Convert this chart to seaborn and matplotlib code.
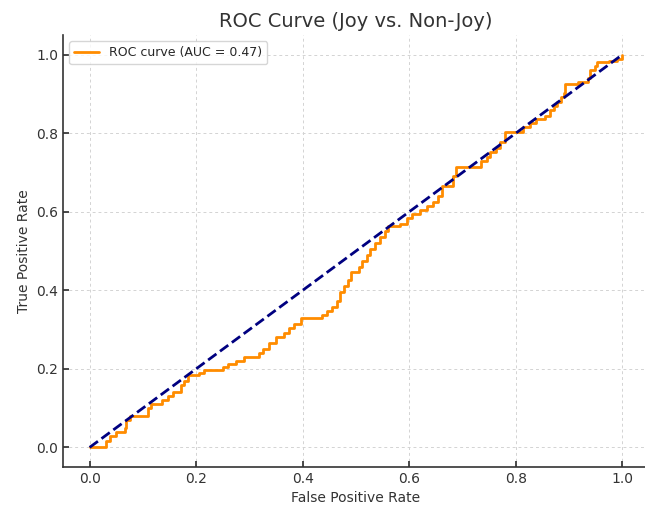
import matplotlib
matplotlib.use("Agg")
import matplotlib.pyplot as plt
import seaborn as sns
import pandas as pd

# Step corners of the ROC curve (tpr jumps to value at given fpr)
fpr = [0.000, 0.030, 0.038, 0.050, 0.066, 0.068, 0.075, 0.110, 0.115, 0.135,
       0.148, 0.156, 0.172, 0.178, 0.184, 0.205, 0.214, 0.250, 0.260, 0.274,
       0.289, 0.317, 0.325, 0.336, 0.350, 0.365, 0.375, 0.383, 0.396, 0.437,
       0.445, 0.455, 0.465, 0.470, 0.477, 0.485, 0.490, 0.505, 0.512, 0.520,
       0.527, 0.535, 0.545, 0.555, 0.560, 0.583, 0.595, 0.605, 0.620, 0.634,
       0.645, 0.653, 0.662, 0.683, 0.688, 0.734, 0.745, 0.752, 0.762, 0.771,
       0.780, 0.814, 0.827, 0.837, 0.855, 0.865, 0.872, 0.877, 0.885, 0.890,
       0.893, 0.917, 0.936, 0.940, 0.948, 0.953, 0.975, 0.990, 1.000]
tpr = [0.000, 0.015, 0.028, 0.040, 0.050, 0.070, 0.080, 0.100, 0.110, 0.120,
       0.132, 0.142, 0.160, 0.170, 0.183, 0.190, 0.198, 0.205, 0.212, 0.220,
       0.231, 0.240, 0.250, 0.265, 0.280, 0.290, 0.305, 0.315, 0.330, 0.338,
       0.348, 0.358, 0.372, 0.395, 0.410, 0.425, 0.447, 0.460, 0.475, 0.490,
       0.505, 0.520, 0.535, 0.550, 0.563, 0.570, 0.585, 0.595, 0.605, 0.615,
       0.625, 0.640, 0.665, 0.690, 0.713, 0.728, 0.740, 0.752, 0.762, 0.777,
       0.802, 0.815, 0.825, 0.835, 0.845, 0.858, 0.870, 0.880, 0.893, 0.903,
       0.924, 0.930, 0.940, 0.962, 0.972, 0.980, 0.985, 0.990, 1.000]
auc_value = 0.47
chance_x = [0, 1]
chance_y = [0, 1]

title = "ROC Curve (Joy vs. Non-Joy)"
xlabel = "False Positive Rate"
ylabel = "True Positive Rate"
xticks = [0.0, 0.2, 0.4, 0.6, 0.8, 1.0]
yticks = [0.0, 0.2, 0.4, 0.6, 0.8, 1.0]

sns.set_theme(style="white")
plt.rcParams['font.family'] = ['DejaVu Sans']

fig = plt.figure(figsize=(6.45, 5.09), dpi=100)
ax = fig.add_axes([63/645, 42/509, 586/645, 432/509])

df = pd.DataFrame({"fpr": fpr, "tpr": tpr})
sns.lineplot(data=df, x="fpr", y="tpr", ax=ax, color="darkorange", lw=2,
             drawstyle="steps-post", estimator=None, sort=False,
             label=f"ROC curve (AUC = {auc_value:.2f})")
sns.lineplot(x=chance_x, y=chance_y, ax=ax, color="navy", lw=2,
             linestyle="--", estimator=None)

ax.set_xlim(-0.05, 1.05)
ax.set_ylim(-0.05, 1.05)
ax.set_xticks(xticks)
ax.set_yticks(yticks)
ax.set_xticklabels([f"{t:.1f}" for t in xticks])
ax.set_yticklabels([f"{t:.1f}" for t in yticks])
ax.grid(True, linestyle=(0, (3, 3)), color="#d3d3d3", lw=0.7)
ax.tick_params(axis="both", labelsize=10, direction="in", length=4,
               color="#333333", labelcolor="#333333", left=True, bottom=True)
for s in ["top", "right"]:
    ax.spines[s].set_visible(False)
for s in ["left", "bottom"]:
    ax.spines[s].set_color("#333333")
    ax.spines[s].set_linewidth(1.2)

ax.set_title(title, fontsize=14, color="#333333")
ax.set_xlabel(xlabel, fontsize=10, color="#333333")
ax.set_ylabel(ylabel, fontsize=10, color="#333333")
leg = ax.legend(loc="upper left", fontsize=9, frameon=True)
leg.get_frame().set_edgecolor("#cccccc")

fig.savefig("out.png", dpi=100)
